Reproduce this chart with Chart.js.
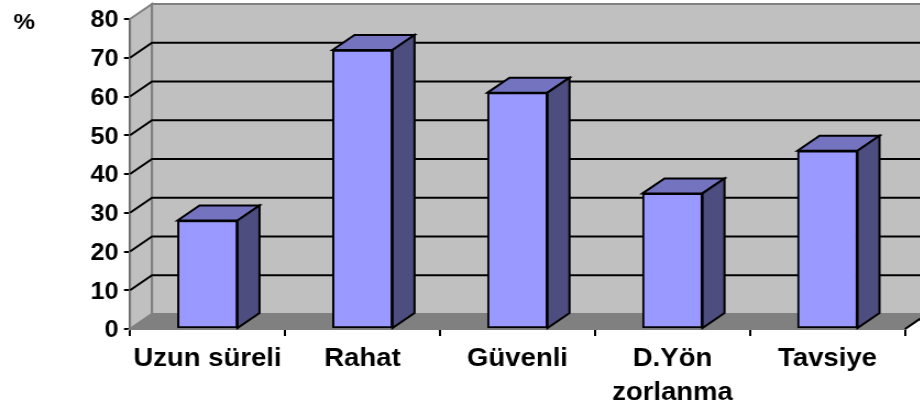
<!DOCTYPE html>
<html><head><meta charset="utf-8">
<script src="https://cdn.jsdelivr.net/npm/chart.js@4/dist/chart.umd.min.js"></script>
<style>
html,body{margin:0;padding:0;background:#fff;overflow:hidden}
#wrap{width:920px;height:411px;overflow:hidden;position:relative}
#c{position:absolute;left:0;top:0;transform-origin:0 0;transform:scaleX(1.1)}
</style></head><body>
<div id="wrap"><canvas id="c" width="836" height="411"></canvas></div>
<script>
// ---- data ----
const categories = ['Uzun süreli', 'Rahat', 'Güvenli', ['D.Yön', 'zorlanma'], 'Tavsiye'];
const values = [28, 72, 61, 35, 46];
const yMin = 0, yMax = 80, yStep = 10;
const unitLabel = '%';

// ---- look ----
const SX = 1.1;                 // horizontal stretch of the picture
const DX = 22 / SX, DY = -15;   // 3-D depth offset
const FONT = "'Liberation Sans', Arial, sans-serif";

function poly(ctx, pts) {
  ctx.beginPath();
  ctx.moveTo(pts[0][0], pts[0][1]);
  for (let i = 1; i < pts.length; i++) ctx.lineTo(pts[i][0], pts[i][1]);
  ctx.closePath();
}

const depth3d = {
  id: 'depth3d',
  beforeDatasetsDraw(chart) {
    const ctx = chart.ctx;
    const { left: L, right: R, top: T, bottom: B } = chart.chartArea;
    const ys = chart.scales.y;
    ctx.save();
    // side wall
    ctx.fillStyle = '#c0c0c0'; ctx.strokeStyle = '#808080'; ctx.lineWidth = 2;
    poly(ctx, [[L, T], [L + DX, T + DY], [L + DX, B + DY], [L, B]]);
    ctx.fill(); ctx.stroke();
    // back wall
    ctx.beginPath();
    ctx.rect(L + DX, T + DY, R - L, B - T);
    ctx.fill(); ctx.stroke();
    // floor
    ctx.fillStyle = '#808080';
    poly(ctx, [[L, B], [L + DX, B + DY], [R + DX, B + DY], [R, B]]);
    ctx.fill(); ctx.stroke();
    // gridlines on side and back walls
    ctx.strokeStyle = '#000'; ctx.lineWidth = 2;
    ys.ticks.forEach(t => {
      if (t.value <= yMin || t.value >= yMax) return;
      const py = ys.getPixelForValue(t.value);
      ctx.beginPath();
      ctx.moveTo(L, py); ctx.lineTo(L + DX, py + DY); ctx.lineTo(R + DX, py + DY);
      ctx.stroke();
    });
    // right floor edge
    ctx.beginPath();
    ctx.moveTo(R, B); ctx.lineTo(R + DX, B + DY);
    ctx.stroke();
    ctx.restore();
  },
  afterDatasetsDraw(chart) {
    const ctx = chart.ctx;
    const meta = chart.getDatasetMeta(0);
    ctx.save();
    ctx.lineWidth = 2; ctx.strokeStyle = '#000';
    meta.data.forEach(bar => {
      const p = bar.getProps(['x', 'y', 'base', 'width'], true);
      const l = p.x - p.width / 2, r = p.x + p.width / 2;
      ctx.fillStyle = '#7373bf';
      poly(ctx, [[l, p.y], [l + DX, p.y + DY], [r + DX, p.y + DY], [r, p.y]]);
      ctx.fill(); ctx.stroke();
      ctx.fillStyle = '#4d4d80';
      poly(ctx, [[r, p.y], [r + DX, p.y + DY], [r + DX, p.base + DY], [r, p.base]]);
      ctx.fill(); ctx.stroke();
    });
    ctx.fillStyle = '#000';
    ctx.font = 'bold 22px ' + FONT;
    ctx.textAlign = 'center'; ctx.textBaseline = 'middle';
    ctx.fillText(unitLabel, 22, 23);
    ctx.restore();
  }
};

new Chart(document.getElementById('c'), {
  type: 'bar',
  data: {
    labels: categories,
    datasets: [{
      data: values,
      backgroundColor: '#9999ff',
      borderColor: '#000',
      borderWidth: 2,
      borderSkipped: false,
      barThickness: 60 / SX
    }]
  },
  options: {
    responsive: false,
    devicePixelRatio: 1,
    animation: false,
    layout: { padding: { left: 0, right: 836 - 905 / SX, top: 19, bottom: 0 } },
    plugins: { legend: { display: false }, tooltip: { enabled: false } },
    scales: {
      x: {
        afterFit(s) { s.height = 411 - 329; },
        border: { display: true, color: '#000', width: 2 },
        grid: { display: true, drawOnChartArea: false, drawTicks: true, tickLength: 7, color: '#000', lineWidth: 2, offset: true },
        ticks: { color: '#000', font: { family: FONT, size: 25, weight: 'bold', lineHeight: 1.35 }, padding: 6, maxRotation: 0, autoSkip: false }
      },
      y: {
        min: yMin, max: yMax,
        afterFit(s) { s.width = 130 / SX; },
        border: { display: true, color: '#000', width: 2 },
        grid: { display: true, drawOnChartArea: false, drawTicks: true, tickLength: 6 / SX, color: '#000', lineWidth: 2 },
        ticks: { stepSize: yStep, color: '#000', font: { family: FONT, size: 23, weight: 'bold' }, padding: 5, labelOffset: 2 }
      }
    }
  },
  plugins: [depth3d]
});
</script>
</body></html>
